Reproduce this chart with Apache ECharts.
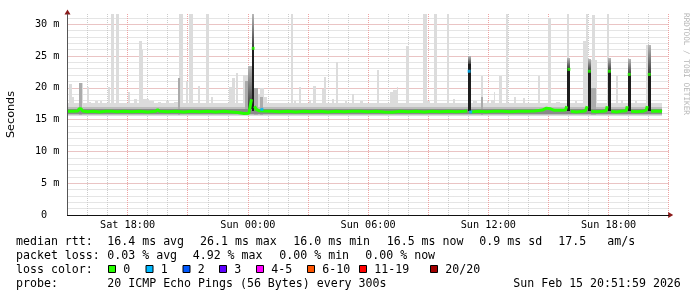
<!DOCTYPE html>
<html><head><meta charset="utf-8">
<script src="https://cdn.jsdelivr.net/npm/echarts@6/dist/echarts.min.js"></script>
<style>html,body{margin:0;padding:0;background:#fff}#c{width:697px;height:297px}</style>
</head><body><div id="c"></div>
<script>
// ---------- data (hours relative to Sat 18:00, values in ms) ----------
const xLabelHours = [0, 6, 12, 18, 24];
const xLabelTexts = ['Sat 18:00', 'Sun 00:00', 'Sun 06:00', 'Sun 12:00', 'Sun 18:00'];

// continuous smoke band around the median: [start, end, low, high]
const smokeBaseLight = [[-3.0, 26.67, 15.55, 17.55]];
const smokeBaseMid   = [[-3.0, 26.67, 15.8, 17.0]];
const smokeBaseDark  = [[-3.0, 26.67, 15.95, 16.7]];

// light smoke spikes (max ping): [start, end, top]
const smokeLight = [
 [-2.95,-2.80,20.6],[-2.80,-2.70,18.6],[-2.45,-2.25,20.7],[-2.05,-1.95,20.1],[-1.95,-1.85,17.7],
 [-1.65,-1.50,18.0],[-1.40,-1.30,17.9],[-0.96,-0.86,20.1],[-0.81,-0.66,31.6],[-0.56,-0.41,31.6],
 [0.04,0.14,19.4],[0.34,0.49,18.3],[0.59,0.74,27.3],[0.74,0.79,26.0],[0.79,1.05,18.3],[1.05,1.30,17.9],
 [1.50,1.65,17.8],[1.90,2.05,17.9],[2.30,2.50,17.8],[2.53,2.58,21.6],[2.58,2.78,31.6],[2.93,3.03,21.0],
 [3.08,3.28,31.6],[3.53,3.63,20.3],[3.93,4.08,31.6],[4.18,4.27,18.6],[5.07,5.22,20.1],[5.22,5.37,21.5],
 [5.42,5.52,22.3],[5.77,6.02,22.0],[6.32,6.50,20.0],[6.50,6.62,19.0],[6.62,6.82,20.0],[6.82,6.95,18.5],
 [8.16,8.26,31.6],[8.30,8.40,17.9],[8.56,8.66,20.1],[9.05,9.15,18.1],[9.26,9.41,20.3],[9.71,9.81,19.8],
 [9.81,9.91,21.7],[10.20,10.30,18.3],[10.40,10.50,24.0],[10.50,10.60,17.6],[10.85,10.95,17.9],
 [11.20,11.30,19.0],[11.60,11.75,18.0],[12.45,12.55,22.8],[13.09,13.24,19.4],[13.24,13.44,19.7],
 [13.44,13.49,20.1],[13.89,14.04,26.5],[14.74,14.94,31.6],[14.94,15.09,17.9],[15.29,15.44,31.6],
 [15.93,16.03,31.6],[16.23,16.33,18.2],[17.25,17.45,18.0],[17.63,17.73,21.8],[17.95,18.05,17.9],
 [18.13,18.28,18.1],[18.30,18.35,19.4],[18.52,18.67,21.9],[18.87,18.97,31.6],[19.30,19.40,18.5],
 [19.75,19.85,18.4],[20.47,20.57,21.9],[20.97,21.12,30.9],[21.40,21.60,17.8],[21.91,22.01,31.6],
 [22.30,22.40,17.9],[22.74,22.86,27.3],[22.86,22.96,31.6],[23.11,23.44,24.4],[23.16,23.31,31.5],
 [23.94,24.04,31.6],[24.39,24.47,21.8],[24.60,24.70,18.1],[25.30,25.40,18.0],[25.85,25.98,26.8],
 [26.20,26.35,17.6]
];
// medium smoke: [start, end, top]
const smokeMid = [
 [-2.42,-2.30,20.7],[2.53,2.63,21.6],[5.87,6.02,21.0],[6.33,6.50,20.0],[6.62,6.78,18.6],
 [17.63,17.73,18.6],[23.11,23.35,20.0]
];
// dark (graded) smoke: [start, end, low, high]
const smokeDark = [
 [6.02,6.20,16.6,23.4],[6.23,6.29,26.3,31.6],[16.97,17.11,23.8,25.0],[21.95,22.09,22.9,24.7],
 [22.97,23.11,22.6,24.5],[23.97,24.11,22.6,24.7],[24.97,25.10,22.0,24.6],[25.96,26.10,22.1,26.8]
];
// black smoke core of the spikes: [start, end, top]
const smokeBlack = [
 [6.20,6.33,26.3],[16.97,17.11,23.8],[21.95,22.09,22.9],[22.97,23.11,22.6],
 [23.97,24.11,22.6],[24.97,25.10,22.0],[25.96,26.10,22.1]
];
// median rtt line (null = break)
const medianLine = [
 [-3.0,16.3],[-2.7,16.3],[-2.48,16.35],[-2.42,16.7],[-2.32,16.7],[-2.25,16.35],[-2.0,16.25],[-1.7,16.3],
 [-1.4,16.2],[-1.1,16.3],[-0.8,16.3],[-0.5,16.25],[-0.2,16.3],[0.2,16.25],[0.6,16.3],[1.0,16.2],
 [1.4,16.3],[1.5,16.55],[1.6,16.3],[2.0,16.25],[2.4,16.3],[2.8,16.2],[3.2,16.3],[3.6,16.25],[4.0,16.3],
 [4.4,16.2],[4.8,16.3],[5.2,16.2],[5.5,16.1],[5.8,15.95],[6.05,16.0],[6.12,16.3],[6.18,18.2],[6.22,null],
 [6.33,17.1],[6.42,16.6],[6.55,16.4],[6.8,16.35],[7.2,16.3],[7.6,16.25],[8.0,16.3],[8.4,16.2],[8.8,16.3],
 [9.2,16.25],[9.6,16.3],[10.0,16.2],[10.4,16.3],[10.8,16.25],[11.2,16.3],[11.6,16.3],[12.0,16.25],
 [12.4,16.3],[12.8,16.2],[13.2,16.15],[13.6,16.3],[14.0,16.25],[14.4,16.3],[14.8,16.2],[15.2,16.3],
 [15.6,16.25],[16.0,16.3],[16.4,16.25],[16.8,16.3],[16.95,16.35],[17.0,null],[17.15,16.2],[17.5,16.3],
 [17.9,16.25],[18.3,16.3],[18.7,16.3],[19.1,16.25],[19.5,16.3],[19.9,16.3],[20.3,16.35],[20.7,16.5],
 [20.9,16.8],[21.1,16.7],[21.3,16.45],[21.6,16.45],[21.85,16.5],[21.91,17.1],[21.97,null],[22.11,16.3],
 [22.4,16.2],[22.7,16.3],[22.85,16.4],[22.93,17.1],[22.99,null],[23.13,16.3],[23.4,16.25],[23.7,16.3],
 [23.88,16.4],[23.93,17.1],[23.99,null],[24.13,16.3],[24.4,16.2],[24.7,16.35],[24.88,16.4],[24.93,17.1],
 [24.99,null],[25.12,16.3],[25.4,16.25],[25.7,16.3],[25.88,16.5],[25.93,17.1],[25.99,null],[26.12,16.3],
 [26.4,16.35],[26.67,16.3]
];
// isolated median samples: [hour, value, loss index]
const medianMarks = [
 [6.265,26.2,0],[6.70,16.6,1],[17.04,22.6,1],[17.12,16.2,1],[22.02,22.9,0],
 [23.04,22.6,0],[24.04,22.6,0],[25.03,22.1,0],[26.03,22.1,0]
];
const lossLabels = ['0','1','2','3','4-5','6-10','11-19','20/20'];
const lossColors = ['#26ff00','#00b8ff','#0059ff','#5e00ff','#ff00ff','#ff5500','#ff0000','#a10000'];
const rttStats  = ['16.4 ms avg','26.1 ms max','16.0 ms min','16.5 ms now','0.9 ms sd','17.5','am/s'];
const lossStats = ['0.03 % avg','4.92 % max','0.00 % min','0.00 % now'];
const probeText = '20 ICMP Echo Pings (56 Bytes) every 300s';
const dateText  = 'Sun Feb 15 20:51:59 2026';

// ---------- rendering ----------
const SMOKE_FLOOR = 15.6, MID_FLOOR = 15.7, BLACK_FLOOR = 16.3;
function rectRender(params, api) {
  const p0 = api.coord([api.value(0), api.value(3)]);
  const p1 = api.coord([api.value(1), api.value(2)]);
  const cs = params.coordSys;
  let l = Math.round(p0[0]), r = Math.round(p1[0]);
  if (r - l < 1) r = l + 1;
  let t = Math.max(Math.round(p0[1]), cs.y), b = Math.round(p1[1]);
  return { type: 'rect', shape: { x: l, y: t, width: r - l, height: Math.max(1, b - t) }, style: api.style() };
}
function rectSeries(name, data, color, z) {
  return { name, type: 'custom', renderItem: rectRender, data, z, silent: true, clip: true,
    encode: { x: [0, 1], y: [2, 3] }, itemStyle: { color } };
}
const MONO = '"DejaVu Sans Mono", monospace';
const gray = '#cbcbcb', red = '#eea2a2';
const hGray = Array.from({ length: 32 }, () => gray).concat(['rgba(0,0,0,0)']);
const hRed = Array.from({ length: 7 }, () => red).concat(['rgba(0,0,0,0)']);

const graphic = [];
const rowY = [241.5, 255.5, 269.5, 283.5];
function txt(x, y, s, extra) {
  graphic.push(Object.assign({ type: 'text', x, y, silent: true,
    style: { text: s, font: '11.6px ' + MONO, fill: '#000', verticalAlign: 'middle' } }, extra || {}));
}
txt(16, rowY[0], 'median rtt:');
[107.3, 200, 293.3, 386.7, 479.3, 558.3, 607.3].forEach((x, i) => txt(x, rowY[0], rttStats[i]));
txt(16, rowY[1], 'packet loss:');
[107.3, 192.7, 279.3, 365.3].forEach((x, i) => txt(x, rowY[1], lossStats[i]));
txt(16, rowY[2], 'loss color:');
[108, 145.5, 182.5, 219, 256, 307, 359, 430].forEach((x, i) => {
  graphic.push({ type: 'rect', silent: true, shape: { x: x + 0.5, y: 265.5, width: 7, height: 7 },
    style: { fill: lossColors[i], stroke: '#000', lineWidth: 1 } });
  txt(x + 15.3, rowY[2], lossLabels[i]);
});
txt(16, rowY[3], 'probe:');
txt(107.3, rowY[3], probeText);
txt(513.3, rowY[3], dateText);
graphic.push({ type: 'text', x: 686, y: 64, rotation: -Math.PI / 2, silent: true,
  style: { text: 'RRDTOOL / TOBI OETIKER', font: '7.7px ' + MONO, fill: '#b4b4b4', align: 'center', verticalAlign: 'middle' } });

const noParts = { axisLine: { show: false }, axisTick: { show: false }, axisLabel: { show: false }, splitLine: { show: false } };
function lineAxis(color, arrow, z, extra) {
  return Object.assign({ type: 'value', z, axisTick: { show: false }, axisLabel: { show: false }, splitLine: { show: false },
    axisLine: { show: true, onZero: false, lineStyle: { color, width: 1 },
      symbol: arrow ? ['none', 'triangle'] : 'none', symbolSize: [6, 5], symbolOffset: [0, 2] } }, extra);
}
const chart = echarts.init(document.getElementById('c'), null, { renderer: 'canvas' });
chart.setOption({
  animation: false,
  backgroundColor: '#ffffff',
  grid: { left: 67.5, right: 28.3, top: 14, bottom: 82, outerBoundsMode: 'none', containLabel: false },
  xAxis: [
    Object.assign({}, noParts, { type: 'value', min: -3, max: 27, interval: 1, position: 'bottom', z: 0,
      splitLine: { show: true, lineStyle: { color: gray, type: 'dotted', width: 1 } } }),
    Object.assign({}, noParts, { type: 'value', min: -3, max: 27, interval: 3, position: 'bottom', z: 0,
      axisLabel: { show: true, fontFamily: MONO, fontSize: 10.2, color: '#000', margin: 5,
        formatter: v => { const i = xLabelHours.indexOf(v); return i >= 0 ? xLabelTexts[i] : ''; } },
      splitLine: { show: true, lineStyle: { color: red, type: 'dotted', width: 1 } } }),
    lineAxis('#8b1a1a', true, 10, { min: -3, max: 27, position: 'bottom' }),
    lineAxis('#111111', false, 11, { min: -3, max: 27, position: 'bottom' })
  ],
  yAxis: [
    Object.assign({}, noParts, { type: 'value', min: 0, max: 31.6, interval: 1, position: 'left', z: 0,
      splitLine: { show: true, lineStyle: { color: hGray, type: 'dotted', width: 1 } } }),
    Object.assign({}, noParts, { type: 'value', min: 0, max: 31.6, interval: 5, position: 'left', z: 0,
      axisLabel: { show: true, fontFamily: MONO, fontSize: 10.2, color: '#000', margin: 8, showMaxLabel: false,
        formatter: v => (v === 0 ? '0  ' : v + ' m') },
      splitLine: { show: true, lineStyle: { color: hRed, type: 'dotted', width: 1 } },
      name: 'Seconds', nameLocation: 'middle', nameGap: 51,
      nameTextStyle: { fontFamily: '"DejaVu Sans", sans-serif', fontSize: 11.2, color: '#000' } }),
    lineAxis('#8b1a1a', true, 10, { min: 0, max: 31.6, position: 'left' }),
    lineAxis('#555555', false, 11, { min: 0, max: 31.6, position: 'left' })
  ],
  series: [
    rectSeries('baseLight', smokeBaseLight, '#dcdcdc', 1),
    rectSeries('light', smokeLight.map(d => [d[0], d[1], SMOKE_FLOOR, d[2]]), '#dcdcdc', 1),
    rectSeries('baseMid', smokeBaseMid, '#bdbdbd', 1),
    rectSeries('mid', smokeMid.map(d => [d[0], d[1], MID_FLOOR, d[2]]), '#ababab', 1),
    rectSeries('baseDark', smokeBaseDark, '#8a8a8a', 1),
    rectSeries('dark', smokeDark, new echarts.graphic.LinearGradient(0, 0, 0, 1,
      [{ offset: 0, color: '#b8b8b8' }, { offset: 1, color: '#3a3a3a' }]), 1),
    rectSeries('black', smokeBlack.map(d => [d[0], d[1], BLACK_FLOOR, d[2]]), '#1e1e1e', 1),
    { name: 'median', type: 'line', data: medianLine, showSymbol: false, symbol: 'none', z: 6, silent: true,
      connectNulls: false, lineStyle: { color: lossColors[0], width: 3 } },
    { name: 'marks', type: 'scatter', z: 7, silent: true, symbol: 'rect', symbolSize: [3, 3],
      data: medianMarks.map(m => ({ value: [m[0], m[1]], itemStyle: { color: lossColors[m[2]] } })) }
  ],
  graphic
});
</script></body></html>
